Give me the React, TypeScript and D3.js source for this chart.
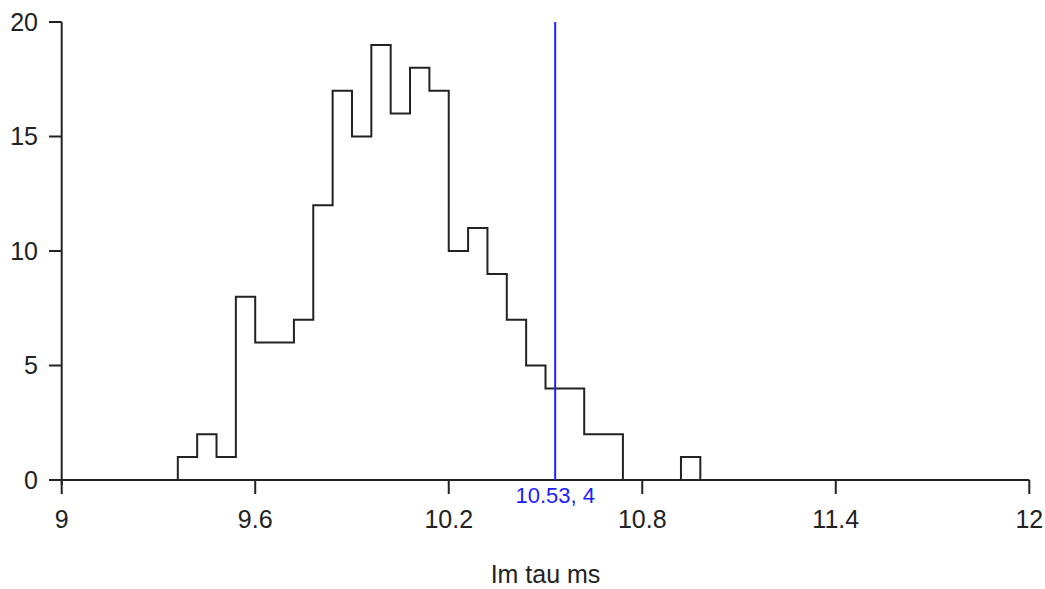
import React from "react";
import * as d3 from "d3";

const binStart = 9.36;
const binWidth = 0.06;
const counts = [1, 2, 1, 8, 6, 6, 7, 12, 17, 15, 19, 16, 18, 17, 10, 11, 9, 7, 5, 4, 4, 2, 2, 0, 0, 0, 1];
const xTicks = [9, 9.6, 10.2, 10.8, 11.4, 12];
const yTicks = [0, 5, 10, 15, 20];
const markerX = 10.53;
const markerLabel = "10.53, 4";
const xTitle = "Im tau ms";

export default function App() {
  const W = 1045, H = 589;
  const x = d3.scaleLinear().domain([9, 12]).range([61.7, 1029.3]);
  const y = d3.scaleLinear().domain([0, 20]).range([480, 22]);

  const pts: [number, number][] = [];
  pts.push([binStart, 0]);
  counts.forEach((c, i) => {
    const x0 = binStart + i * binWidth;
    pts.push([x0, c]);
    pts.push([x0 + binWidth, c]);
  });
  pts.push([binStart + counts.length * binWidth, 0]);
  const line = d3.line<[number, number]>().x(d => x(d[0])).y(d => y(d[1]));

  const font = "'Liberation Sans', Arial, sans-serif";
  const stroke = "#222";
  return (
    <svg width={W} height={H} style={{ position: "absolute", left: 0, top: 0, background: "#fff" }}>
      {/* axes */}
      <line x1={61.7} x2={61.7} y1={y(20)} y2={485} stroke={stroke} strokeWidth={2} />
      <line x1={49} x2={x(12)} y1={y(0)} y2={y(0)} stroke={stroke} strokeWidth={2} />
      {yTicks.map(t => (
        <g key={"y" + t}>
          <line x1={49} x2={61.7} y1={y(t)} y2={y(t)} stroke={stroke} strokeWidth={2} />
          <text x={38} y={y(t)} dy="0.35em" textAnchor="end" fontFamily={font} fontSize={25} fill="#222">{t}</text>
        </g>
      ))}
      {xTicks.map(t => (
        <g key={"x" + t}>
          <line x1={x(t)} x2={x(t)} y1={y(0)} y2={494} stroke={stroke} strokeWidth={2} />
          <text x={x(t)} y={528} textAnchor="middle" fontFamily={font} fontSize={25} fill="#222">{t}</text>
        </g>
      ))}
      <path d={line(pts) || ""} fill="none" stroke={stroke} strokeWidth={2} />
      <line x1={x(markerX)} x2={x(markerX)} y1={y(20)} y2={y(0)} stroke="#2020ff" strokeWidth={2} />
      <text x={x(markerX)} y={503} textAnchor="middle" fontFamily={font} fontSize={22} fill="#2020ff">{markerLabel}</text>
      <text x={(x(9) + x(12)) / 2} y={583} textAnchor="middle" fontFamily={font} fontSize={25} fill="#222">{xTitle}</text>
    </svg>
  );
}
